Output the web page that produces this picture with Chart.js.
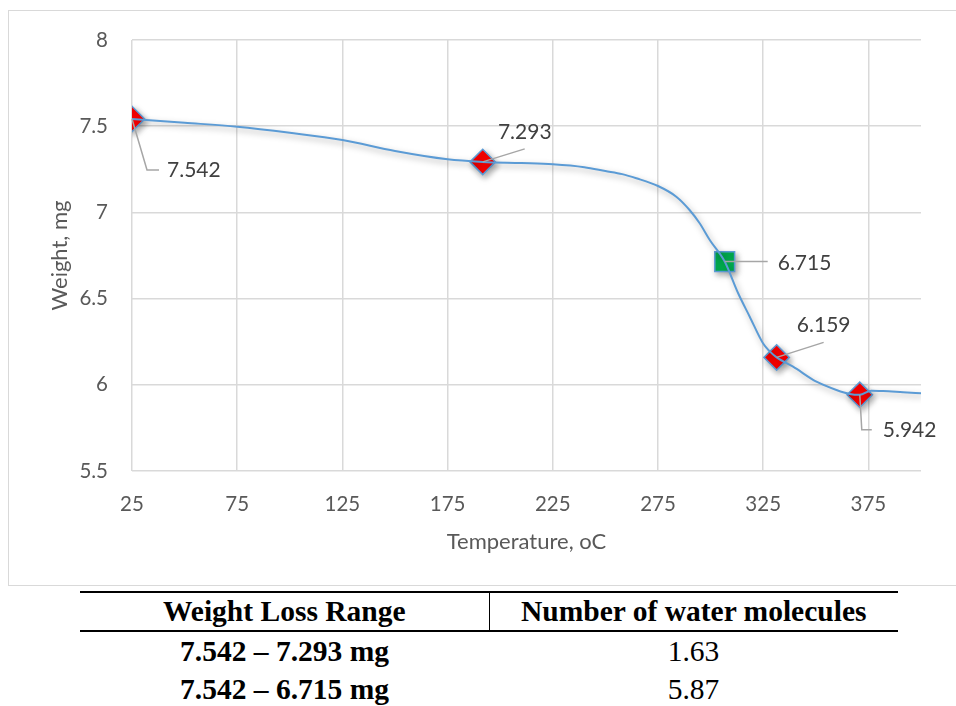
<!DOCTYPE html>
<html>
<head>
<meta charset="utf-8">
<title>TGA curve</title>
<script src="https://cdn.jsdelivr.net/npm/chart.js@4.4.1/dist/chart.umd.min.js"></script>
<style>
  html, body { margin: 0; padding: 0; background: #fff; }
  body { width: 956px; height: 706px; position: relative; overflow: hidden; }
  #frame { position: absolute; left: 8px; top: 10px; width: 960px; height: 574px; border: 1px solid #d9d9d9; }
  #plot { position: absolute; left: 0; top: 0; }
  table.loss {
    position: absolute; left: 80px; top: 591px; width: 818px;
    border-collapse: collapse; table-layout: fixed;
    font-family: "Liberation Serif", "Times New Roman", serif; font-size: 29.5px; color: #000;
  }
  table.loss th { height: 37px; padding: 0; font-weight: bold; border-top: 2px solid #000; border-bottom: 2px solid #000; }
  table.loss th.first { border-right: 1.5px solid #000; }
  table.loss td { height: 38px; padding: 0; text-align: center; }
  table.loss td.range { font-weight: bold; }
</style>
</head>
<body>
<div id="frame"></div>
<canvas id="plot" width="956" height="590"></canvas>

<table class="loss">
  <thead>
    <tr><th class="first">Weight Loss Range</th><th>Number of water molecules</th></tr>
  </thead>
  <tbody>
    <tr><td class="range">7.542 – 7.293 mg</td><td>1.63</td></tr>
    <tr><td class="range">7.542 – 6.715 mg</td><td>5.87</td></tr>
  </tbody>
</table>

<script>
// TGA trace: temperature (oC) against sample weight (mg)
const tempC = [25, 50, 75, 100, 125, 150, 175, 191.7, 210, 225, 240, 250, 258, 264.7, 275,
               283.7, 290, 294.8, 299.6, 306.7, 313.1, 318.6, 324.9, 328, 331.4, 339.2, 350.3,
               359.8, 366.1, 370.9, 376.4, 382, 391.5, 400];
const weightMg = [7.542, 7.52, 7.497, 7.462, 7.42, 7.356, 7.308, 7.293, 7.286, 7.279, 7.262, 7.24, 7.222, 7.198, 7.153,
                  7.091, 7.014, 6.937, 6.84, 6.715, 6.531, 6.395, 6.241, 6.195, 6.159, 6.105, 6.018,
                  5.970, 5.947, 5.942, 5.966, 5.964, 5.957, 5.951];

// marked points along the trace
const markTemp = [25, 191.7, 306.7, 331.4, 370.9];
const markWeight = [7.542, 7.293, 6.715, 6.159, 5.942];
const greenMark = 2;

const xTicks = [25, 75, 125, 175, 225, 275, 325, 375];
const yTicks = [5.5, 6, 6.5, 7, 7.5, 8];

const BLUE = '#5B9BD5';
const GRID = '#d9d9d9';

// leader line path + label anchor, offsets in px from the marker
const labelLayout = [
  { path: [[0, 0], [15, 51], [27, 51]], at: [35, 51], align: 'left' },
  { path: [[0, 0], [42, -13]], at: [42, -30], align: 'center' },
  { path: [[0, 0], [43, 0]], at: [53, 1.5], align: 'left' },
  { path: [[0, 0], [47, -15]], at: [47, -32], align: 'center' },
  { path: [[0, 0], [2, 35], [12, 35]], at: [23, 35], align: 'left' }
];

Chart.defaults.font.family = 'Lato, "Open Sans", sans-serif';

const shadowPlugin = {
  id: 'shadow',
  beforeDatasetDraw(chart, args) {
    if (args.index > 1) return;
    const c = chart.ctx;
    c.save();
    c.shadowColor = 'rgba(0,0,0,0.35)';
    c.shadowBlur = 6;
    c.shadowOffsetX = 2;
    c.shadowOffsetY = 3;
  },
  afterDatasetDraw(chart, args) {
    if (args.index > 1) return;
    chart.ctx.restore();
  }
};

const pointLabels = {
  id: 'pointLabels',
  afterDatasetsDraw(chart) {
    const c = chart.ctx;
    const meta = chart.getDatasetMeta(1);
    c.save();
    meta.data.forEach((pt, i) => {
      const lay = labelLayout[i];
      c.strokeStyle = '#a6a6a6';
      c.lineWidth = 1.5;
      c.beginPath();
      lay.path.forEach(([dx, dy], k) => {
        if (k === 0) c.moveTo(pt.x + dx, pt.y + dy);
        else c.lineTo(pt.x + dx, pt.y + dy);
      });
      c.stroke();
      c.fillStyle = '#404040';
      c.font = '21px Lato, "Open Sans", sans-serif';
      c.textAlign = lay.align;
      c.textBaseline = 'middle';
      c.fillText(markWeight[i].toFixed(3), pt.x + lay.at[0], pt.y + lay.at[1]);
    });
    c.restore();
  }
};

new Chart(document.getElementById('plot'), {
  type: 'scatter',
  data: {
    datasets: [
      {
        data: tempC.map((t, i) => ({ x: t, y: weightMg[i] })),
        showLine: true,
        borderColor: BLUE,
        borderWidth: 2,
        pointRadius: 0,
        cubicInterpolationMode: 'monotone'
      },
      {
        data: markTemp.map((t, i) => ({ x: t, y: markWeight[i] })),
        showLine: false,
        pointStyle: markTemp.map((t, i) => i === greenMark ? 'rect' : 'rectRot'),
        pointRadius: markTemp.map((t, i) => i === greenMark ? 14 : 12.7),
        pointBackgroundColor: markTemp.map((t, i) => i === greenMark ? '#00B050' : '#FF0000'),
        pointBorderColor: BLUE,
        pointBorderWidth: 1.5
      },
      {
        data: [{ x: markTemp[greenMark], y: markWeight[greenMark] }],
        showLine: false,
        pointStyle: 'crossRot',
        pointRadius: 14,
        pointBorderColor: BLUE,
        pointBorderWidth: 1.5
      }
    ]
  },
  options: {
    responsive: false,
    animation: false,
    events: [],
    layout: { padding: { top: 40, right: 35, left: 0, bottom: 0 } },
    plugins: { legend: { display: false }, tooltip: { enabled: false } },
    scales: {
      x: {
        type: 'linear',
        min: 25,
        max: 400,
        afterBuildTicks: s => { s.ticks = xTicks.map(v => ({ value: v })); },
        afterFit: s => { s.height = 119; },
        grid: { color: GRID, lineWidth: 1.5, drawTicks: false },
        border: { display: false },
        ticks: { color: '#595959', font: { size: 20.5 }, padding: 21, maxRotation: 0 },
        title: { display: true, text: 'Temperature, oC', color: '#595959', font: { size: 22 }, padding: { top: 0, bottom: 35 } }
      },
      y: {
        min: 5.5,
        max: 8,
        afterBuildTicks: s => { s.ticks = yTicks.map(v => ({ value: v })); },
        afterFit: s => { s.width = 132; },
        grid: { color: GRID, lineWidth: 1.5, drawTicks: false },
        border: { display: false },
        ticks: { color: '#595959', font: { size: 20.5 }, padding: 24, callback: v => String(v) },
        title: { display: true, text: 'Weight, mg', color: '#595959', font: { size: 22 }, padding: { top: 47, bottom: 0 } }
      }
    }
  },
  plugins: [shadowPlugin, pointLabels]
});
</script>
</body>
</html>
